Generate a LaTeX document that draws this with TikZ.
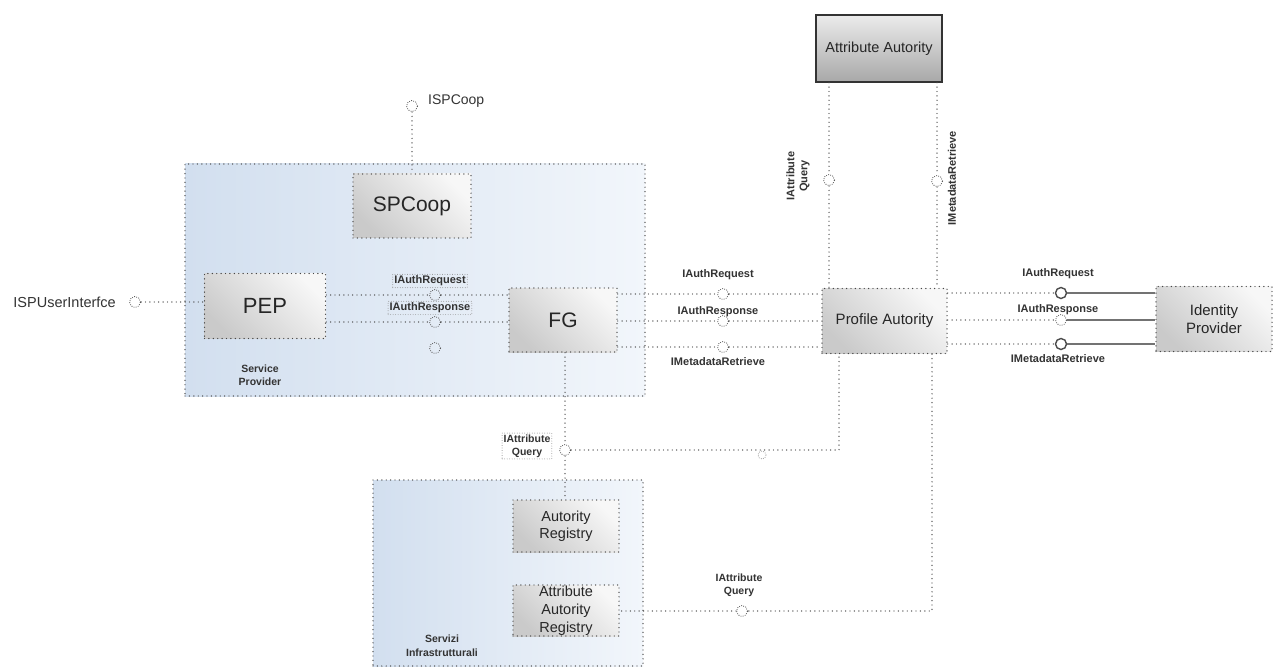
\documentclass[tikz,border=0pt]{standalone}
\usepackage{fontspec}
\setmainfont{Liberation Sans}
\newcommand\fsz[2]{\fontsize{#1}{#2}\selectfont}
\definecolor{boxblueL}{RGB}{210,223,239}
\definecolor{boxblueR}{RGB}{242,246,251}
\definecolor{compdark}{RGB}{202,202,202}
\definecolor{complight}{RGB}{247,247,247}
\definecolor{aatop}{RGB}{235,235,235}
\definecolor{aabot}{RGB}{168,168,168}
\begin{document}
\begin{tikzpicture}[x=1pt,y=-1pt,
  dots/.style={draw=black!72, line width=1.4pt, line cap=round, dash pattern=on 0pt off 4.4pt},
  container/.style={rectangle, dots, inner sep=0, left color=boxblueL, right color=boxblueR},
  comp/.style={rectangle, dots, inner sep=0, align=center, text=black!85,
    top color=complight, bottom color=compdark, shading angle=-45},
  conn/.style={dots},
  port/.style={circle, draw=black!70, line width=1.1pt, line cap=round,
    dash pattern=on 0pt off 2.2pt, minimum size=11pt, inner sep=0},
  lolli/.style={circle, draw=black!70, fill=white, line width=1.4pt, minimum size=11pt, inner sep=0},
  solidlink/.style={draw=black!55, line width=2.2pt},
  ilabel/.style={font=\bfseries\fsz{11}{13}, text=black!80, align=center, inner sep=1pt},
  flabel/.style={ilabel, draw=black!45, line width=0.9pt, line cap=round,
    dash pattern=on 0pt off 2.5pt, inner sep=1.5pt},
  plain/.style={font=\fsz{14}{16}, text=black!80, inner sep=0}]

% page
\fill[white] (0,0) rectangle (1273,668);
\useasboundingbox (0,0) rectangle (1273,668);

% containers
\node[container, minimum width=460, minimum height=232] (SP) at (415,280) {};
\node[container, minimum width=270, minimum height=186] (SI) at (508,573) {};
\node[ilabel, font=\bfseries\fsz{10.5}{13.5}] (SPlab) at (260,375) {Service\\Provider};
\node[ilabel, font=\bfseries\fsz{10.5}{14}] (SIlab) at (442,646) {Servizi\\Infrastrutturali};

% components
\node[comp, minimum width=118, minimum height=64, font=\fsz{21}{24}] (SPC) at (412,206) {SPCoop};
\node[comp, minimum width=121, minimum height=65, font=\fsz{22}{24}] (PEP) at (265,306) {PEP};
\node[comp, minimum width=108, minimum height=64, font=\fsz{21}{24}] (FG) at (563,320) {FG};
\node[comp, minimum width=125, minimum height=65, font=\fsz{15}{18}] (PA) at (884.5,321) {Profile Autority};
\node[comp, minimum width=116, minimum height=65, font=\fsz{15}{18}] (IdP) at (1214,319) {Identity\\Provider};
\node[comp, minimum width=106, minimum height=52, font=\fsz{14.5}{17}] (AR) at (566,526) {Autority\\Registry};
\node[comp, minimum width=106, minimum height=51, font=\fsz{14.5}{18}] (AAR) at (566,610.5) {Attribute\\Autority\\Registry};
\node[rectangle, draw=black!80, line width=1.4pt, top color=aatop, bottom color=aabot,
      minimum width=126, minimum height=67, inner sep=0, font=\fsz{14.5}{17}, text=black!85]
      (AA) at (879,48.5) {Attribute Autority};

% external interfaces of the Service Provider
\node[port] (v1) at (412,106) {};
\node[plain, anchor=west] (vlab) at (428,101) {ISPCoop};
\draw[conn] (v1) -- (SPC.north -| v1);

\node[port] (w1) at (135,302) {};
\node[plain, anchor=east, font=\fsz{14.5}{16}] (wlab) at (116,302) {ISPUserInterfce};
\draw[conn] (w1) -- (PEP.west |- w1);

% PEP -- FG
\node[port] (p1) at (435,295) {};
\node[port] (p2) at (435,322) {};
\node[port] (p3) at (435,348) {};
\draw[conn] (PEP.east |- p1) -- (p1) -- (FG.west |- p1);
\draw[conn] (PEP.east |- p2) -- (p2) -- (FG.west |- p2);
\node[flabel] (p1lab) at (430,281) {IAuthRequest};
\node[flabel] (p2lab) at (430,308) {IAuthResponse};

% FG -- Profile Autority
\node[port] (q1) at (723,294) {};
\node[port] (q2) at (723,321) {};
\node[port] (q3) at (723,347) {};
\draw[conn] (FG.east |- q1) -- (q1) -- (PA.west |- q1);
\draw[conn] (FG.east |- q2) -- (q2) -- (PA.west |- q2);
\draw[conn] (FG.east |- q3) -- (q3) -- (PA.west |- q3);
\node[ilabel] (q1lab) at (718,275) {IAuthRequest};
\node[ilabel] (q2lab) at (718,312) {IAuthResponse};
\node[ilabel] (q3lab) at (718,362) {IMetadataRetrieve};

% Profile Autority -- Identity Provider
\node[lolli] (r1) at (1061,293) {};
\node[port] (r2) at (1061,320) {};
\node[lolli] (r3) at (1061,344) {};
\draw[conn] (PA.east |- r1) -- (r1);
\draw[conn] (PA.east |- r2) -- (r2);
\draw[conn] (PA.east |- r3) -- (r3);
\draw[solidlink] (r1) -- (IdP.west |- r1);
\draw[solidlink] (r2) -- (IdP.west |- r2);
\draw[solidlink] (r3) -- (IdP.west |- r3);
\node[ilabel] (r1lab) at (1058,274) {IAuthRequest};
\node[ilabel] (r2lab) at (1058,310) {IAuthResponse};
\node[ilabel] (r3lab) at (1058,359) {IMetadataRetrieve};

% Attribute Autority -- Profile Autority
\node[port] (s1) at (829,180) {};
\node[port] (s2) at (937,181) {};
\draw[conn] (AA.south -| s1) -- (s1) -- (PA.north -| s1);
\draw[conn] (AA.south -| s2) -- (s2) -- (PA.north -| s2);
\node[ilabel, rotate=90] (s1lab) at (798,176) {IAttribute\\Query};
\node[ilabel, rotate=90] (s2lab) at (952,178) {IMetadataRetrieve};

% FG -- Autority Registry, attribute query towards Profile Autority
\node[port] (t1) at (565,450) {};
\draw[conn] (FG.south -| t1) -- (t1) -- (AR.north -| t1);
\coordinate (c1) at (839,450);
\draw[conn] (t1) -- (c1) -- (PA.south -| c1);
\node[port, minimum size=8pt, draw=black!40] (m1) at (762,455) {};
\node[flabel, font=\bfseries\fsz{10.5}{13}] (t1lab) at (527,446) {IAttribute\\Query};

% Profile Autority -- Attribute Autority Registry
\node[port] (u1) at (742,611) {};
\coordinate (c2) at (932,611);
\draw[conn] (PA.south -| c2) -- (c2) -- (u1) -- (AAR.east |- u1);
\node[ilabel, font=\bfseries\fsz{10.5}{13}] (u1lab) at (739,585) {IAttribute\\Query};
\end{tikzpicture}
\end{document}
